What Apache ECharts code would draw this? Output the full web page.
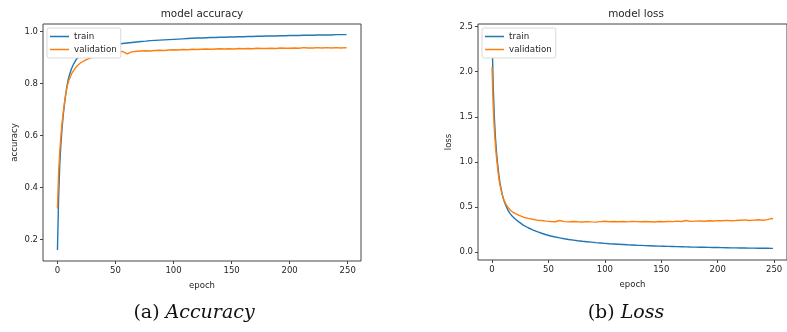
<!DOCTYPE html>
<html>
<head>
<meta charset="utf-8">
<script src="https://cdn.jsdelivr.net/npm/echarts@6/dist/echarts.min.js"></script>
<style>
  html, body { margin: 0; padding: 0; background: #fff; }
  #chart { width: 787px; height: 332px; }
</style>
</head>
<body>
<div id="chart"></div>
<script>
const epochs = [0, 1, 2, 3, 4, 5, 6, 7, 8, 9, 10, 12, 14, 16, 18,
  20, 24, 28, 32, 36, 40, 44, 48, 52, 56, 60, 64, 68, 72, 76, 80, 84, 88, 92, 96,
  100, 104, 108, 112, 116, 120, 124, 128, 132, 136, 140, 144, 148, 152, 156, 160,
  164, 168, 172, 176, 180, 184, 188, 192, 196, 200, 204, 208, 212, 216, 220, 224,
  228, 232, 236, 240, 244, 248, 249];

const trainAcc = [0.16, 0.36, 0.49, 0.57, 0.63, 0.68, 0.72, 0.755, 0.785, 0.81, 0.828, 0.856, 0.876, 0.891, 0.902,
  0.911, 0.923, 0.931, 0.937, 0.941, 0.945, 0.948, 0.950, 0.952, 0.954, 0.956, 0.958, 0.960, 0.962, 0.963, 0.965, 0.966, 0.967, 0.968, 0.969,
  0.970, 0.971, 0.972, 0.973, 0.974, 0.975, 0.975, 0.976, 0.977, 0.977, 0.978, 0.978, 0.979, 0.979, 0.980, 0.980,
  0.981, 0.981, 0.982, 0.982, 0.983, 0.983, 0.983, 0.984, 0.984, 0.985, 0.985, 0.985, 0.986, 0.986, 0.986, 0.987,
  0.987, 0.987, 0.987, 0.988, 0.988, 0.988, 0.988];

const valAcc = [0.32, 0.46, 0.54, 0.60, 0.65, 0.69, 0.725, 0.755, 0.78, 0.80, 0.815, 0.836, 0.851, 0.863, 0.872,
  0.880, 0.890, 0.898, 0.903, 0.907, 0.911, 0.914, 0.917, 0.919, 0.924, 0.914, 0.922, 0.924, 0.925, 0.926, 0.925, 0.927, 0.928, 0.927, 0.929,
  0.930, 0.929, 0.931, 0.930, 0.932, 0.931, 0.932, 0.933, 0.932, 0.933, 0.934, 0.933, 0.934, 0.933, 0.935, 0.934,
  0.935, 0.934, 0.936, 0.935, 0.935, 0.936, 0.935, 0.937, 0.936, 0.936, 0.937, 0.936, 0.938, 0.937, 0.937, 0.938,
  0.937, 0.938, 0.937, 0.938, 0.937, 0.938, 0.937];

const trainLoss = [2.41, 1.85, 1.50, 1.27, 1.10, 0.97, 0.86, 0.77, 0.70, 0.64, 0.59, 0.52, 0.465, 0.425, 0.395,
  0.37, 0.33, 0.295, 0.268, 0.245, 0.225, 0.207, 0.19, 0.176, 0.165, 0.155, 0.146, 0.138, 0.131, 0.124, 0.118, 0.113, 0.108, 0.103, 0.099,
  0.095, 0.091, 0.088, 0.085, 0.082, 0.079, 0.077, 0.074, 0.072, 0.070, 0.068, 0.066, 0.064, 0.063, 0.061, 0.060,
  0.058, 0.057, 0.056, 0.054, 0.053, 0.052, 0.051, 0.050, 0.049, 0.048, 0.047, 0.046, 0.045, 0.045, 0.044, 0.043,
  0.042, 0.042, 0.041, 0.040, 0.040, 0.039, 0.039];

const valLoss = [2.05, 1.62, 1.36, 1.18, 1.04, 0.92, 0.82, 0.745, 0.685, 0.635, 0.595, 0.535, 0.495, 0.465, 0.445,
  0.43, 0.405, 0.385, 0.372, 0.362, 0.352, 0.348, 0.342, 0.338, 0.335, 0.348, 0.336, 0.333, 0.338, 0.334, 0.332, 0.336, 0.333, 0.331, 0.336,
  0.340, 0.335, 0.338, 0.334, 0.337, 0.333, 0.339, 0.336, 0.334, 0.338, 0.335, 0.332, 0.337, 0.334, 0.338, 0.336,
  0.341, 0.337, 0.348, 0.339, 0.342, 0.344, 0.340, 0.346, 0.343, 0.347, 0.345, 0.350, 0.346, 0.348, 0.352, 0.355,
  0.349, 0.353, 0.357, 0.352, 0.358, 0.372, 0.362];

const epochTicks = [0, 50, 100, 150, 200, 250];
const accTicks = [0.2, 0.4, 0.6, 0.8, 1.0];
const lossTicks = [0, 0.5, 1.0, 1.5, 2.0, 2.5];

const BLUE = '#1f77b4';
const ORANGE = '#ff7f0e';
const INK = '#262626';
const FONT = 'DejaVu Sans';

function pairs(ys) {
  return epochs.map((e, i) => [e, ys[i]]);
}

function xAxisOf(gridIndex) {
  return {
    type: 'value', gridIndex,
    min: -12.45, max: 261.45,
    name: 'epoch', nameLocation: 'middle', nameGap: 20,
    nameTextStyle: { color: INK, fontSize: 8.5, fontFamily: FONT },
    axisLine: { show: false, onZero: false },
    axisTick: { show: true, customValues: epochTicks, length: 3, lineStyle: { color: '#444' } },
    axisLabel: { customValues: epochTicks, color: INK, fontSize: 8.5, fontFamily: FONT, margin: 5 },
    splitLine: { show: false },
  };
}

function yAxisOf(gridIndex, min, max, ticks, name, gap) {
  return {
    type: 'value', gridIndex, min, max,
    name, nameLocation: 'middle', nameGap: gap, nameRotate: 90,
    nameTextStyle: { color: INK, fontSize: 8.5, fontFamily: FONT },
    axisLine: { show: false, onZero: false },
    axisTick: { show: true, customValues: ticks, length: 3, lineStyle: { color: '#444' } },
    axisLabel: { customValues: ticks, color: INK, fontSize: 8.5, fontFamily: FONT, margin: 5,
      formatter: (v) => v.toFixed(1) },
    splitLine: { show: false },
  };
}

function legendOf(left) {
  return {
    left, top: 28, orient: 'vertical',
    data: ['train', 'validation'],
    icon: 'rect', itemWidth: 19, itemHeight: 1.5, itemGap: 4,
    padding: [4, 4, 4, 3],
    backgroundColor: '#fff', borderColor: '#d0d0d0', borderWidth: 0.8, borderRadius: 2,
    textStyle: { color: INK, fontSize: 8.7, fontFamily: FONT },
    selectedMode: false,
  };
}

function lineOf(name, data, color, idx) {
  return {
    name, type: 'line', data: pairs(data),
    xAxisIndex: idx, yAxisIndex: idx,
    showSymbol: false, symbol: 'none',
    lineStyle: { color, width: 1.4 }, itemStyle: { color },
  };
}

const chart = echarts.init(document.getElementById('chart'));
chart.setOption({
  animation: false,
  backgroundColor: '#fff',
  grid: [
    { left: 43, top: 24, width: 318, height: 237, show: true, borderColor: '#444', borderWidth: 1 },
    { left: 478, top: 24, width: 316, height: 236, show: true, borderColor: '#444', borderWidth: 1 },
  ],
  xAxis: [xAxisOf(0), xAxisOf(1)],
  yAxis: [
    yAxisOf(0, 0.118, 1.029, accTicks, 'accuracy', 24),
    yAxisOf(1, -0.09, 2.53, lossTicks, 'loss', 25),
  ],
  legend: [legendOf(47), legendOf(482)],
  series: [
    lineOf('train', trainAcc, BLUE, 0),
    lineOf('validation', valAcc, ORANGE, 0),
    lineOf('train', trainLoss, BLUE, 1),
    lineOf('validation', valLoss, ORANGE, 1),
  ],
  graphic: [
    { type: 'text', x: 202, y: 14, style: { text: 'model accuracy', fill: INK, font: '10.4px "DejaVu Sans"', align: 'center', verticalAlign: 'middle' } },
    { type: 'text', x: 636, y: 14, style: { text: 'model loss', fill: INK, font: '10.4px "DejaVu Sans"', align: 'center', verticalAlign: 'middle' } },
    { type: 'text', x: 194, y: 313, style: {
        text: '{n|(a) }{i|Accuracy}', align: 'center', verticalAlign: 'middle', fill: '#111',
        rich: { n: { fontFamily: 'DejaVu Serif', fontSize: 19 }, i: { fontFamily: 'DejaVu Serif', fontSize: 19, fontStyle: 'italic' } } } },
    { type: 'text', x: 626, y: 313, style: {
        text: '{n|(b) }{i|Loss}', align: 'center', verticalAlign: 'middle', fill: '#111',
        rich: { n: { fontFamily: 'DejaVu Serif', fontSize: 19 }, i: { fontFamily: 'DejaVu Serif', fontSize: 19, fontStyle: 'italic' } } } },
  ],
});
</script>
</body>
</html>
